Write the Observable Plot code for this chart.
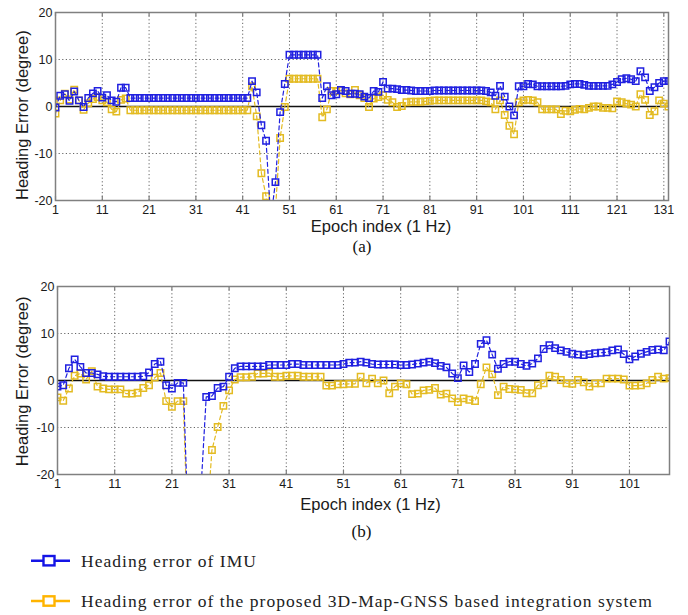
<!DOCTYPE html>
<html>
<head>
<meta charset="utf-8">
<script src="https://cdn.jsdelivr.net/npm/d3@7"></script>
<script src="https://cdn.jsdelivr.net/npm/@observablehq/plot@0.6"></script>
<style>
  html, body { margin: 0; padding: 0; background: #fff; }
  #wrap { position: relative; width: 688px; height: 615px; overflow: hidden; background: #fff; }
  .abs { position: absolute; left: 0; }
  svg { display: block; }
</style>
</head>
<body>
<div id="wrap">
  <div id="pa" class="abs" style="top:0px"></div>
  <div id="pb" class="abs" style="top:270px"></div>
  <div id="leg" class="abs" style="top:546px"></div>
</div>
<script>
// ---------- data ----------
const xTicksA = [1, 11, 21, 31, 41, 51, 61, 71, 81, 91, 101, 111, 121, 131];
const xTicksB = [1, 11, 21, 31, 41, 51, 61, 71, 81, 91, 101];
const yTicks = [-20, -10, 0, 10, 20];

const seriesNames = ["Heading error of IMU", "Heading error of the proposed 3D-Map-GNSS based integration system"];
const xLabel = "Epoch index (1 Hz)";
const yLabel = "Heading Error (degree)";
const panelTags = ["(a)", "(b)"];

// panel (a): epochs 1..132
const imuA = [
  -0.2, 2.3, 2.6, 1.2, 3.2, 1.3, -0.1, 1.8, 2.8, 3.3,
  1.9, 2.4, 1.3, 1.0, 4.0, 4.0, 1.8, 1.8, 1.8, 1.8,
  1.8, 1.8, 1.8, 1.8, 1.8, 1.8, 1.8, 1.8, 1.8, 1.8,
  1.8, 1.8, 1.8, 1.8, 1.8, 1.8, 1.8, 1.8, 1.8, 1.8,
  1.8, 1.8, 5.4, 3.0, -4.0, -7.3, -24, -16.1, -1.2, 4.8,
  11.0, 11.0, 11.0, 11.0, 11.0, 11.0, 11.0, 1.8, 4.3, 2.4,
  2.6, 3.5, 3.3, 2.7, 2.7, 2.6, 2.1, 1.8, 3.3, 3.1,
  5.2, 3.8, 3.8, 3.7, 3.5, 3.5, 3.4, 3.3, 3.3, 3.3,
  3.3, 3.4, 3.4, 3.4, 3.4, 3.4, 3.4, 3.4, 3.4, 3.4,
  3.4, 3.4, 3.3, 3.0, 2.3, 4.4, 2.1, 0.0, -1.9, 4.3,
  4.3, 4.8, 4.7, 4.3, 4.3, 4.3, 4.3, 4.3, 4.3, 4.4,
  4.7, 4.8, 4.8, 4.6, 4.4, 4.4, 4.4, 4.4, 4.4, 4.7,
  5.2, 5.8, 6.0, 5.8, 5.4, 7.5, 6.2, 3.3, 4.1, 5.0,
  5.4, 5.4
];
const propA = [
  -1.5, 1.3, 2.7, 1.5, 3.6, 1.3, -0.7, 0.7, 1.6, 2.0,
  1.3, 0.9, -0.6, -1.1, 1.4, 1.7, -0.8, -0.8, -0.8, -0.8,
  -0.8, -0.8, -0.8, -0.8, -0.8, -0.8, -0.8, -0.8, -0.8, -0.8,
  -0.8, -0.8, -0.8, -0.8, -0.8, -0.8, -0.8, -0.8, -0.8, -0.8,
  -0.8, -0.8, 4.3, -2.1, -14.2, -19.1, -30, -22, -6.7, -0.1,
  5.9, 5.9, 5.9, 5.9, 5.9, 5.9, 5.9, -2.3, -0.6, 3.3,
  3.3, 3.4, 2.8, 2.6, 3.5, 2.4, 1.8, -0.1, 1.7, 2.0,
  2.4, 1.4, 0.9, -0.1, 0.1, 0.9, 1.0, 1.0, 1.0, 1.1,
  1.2, 1.3, 1.3, 1.3, 1.3, 1.3, 1.3, 1.3, 1.3, 1.3,
  1.3, 1.3, 1.1, 0.9, -0.6, 1.3, -1.8, -4.1, -5.9, 0.9,
  1.3, 1.4, 1.3, 0.9, -0.6, -0.6, -0.6, -0.6, -1.6, -0.9,
  -1.0, -0.7, -0.5, -0.6, -0.3, 0.0, 0.0, -0.3, -0.3, -0.4,
  1.1, 0.9, 0.6, 0.4, 0.0, 2.6, 1.4, -1.8, -1.0, 1.3,
  0.6, 0.0
];

// panel (b): epochs 1..108
const imuB = [
  -1.3, -1.0, 2.6, 4.5, 2.9, 1.6, 1.6, 1.3, 0.9, 0.8,
  0.8, 0.8, 0.8, 0.8, 0.8, 0.9, 1.7, 3.5, 4.0, -1.0,
  -1.7, -0.5, -0.5, -37, -45, -25, -3.5, -3.3, -1.6, -1.3,
  0.8, 2.6, 3.0, 3.0, 3.0, 3.0, 3.0, 3.3, 3.3, 3.3,
  3.3, 3.5, 3.5, 3.3, 3.3, 3.3, 3.3, 3.3, 3.3, 3.3,
  3.5, 3.8, 3.8, 4.0, 3.8, 3.5, 3.4, 3.4, 3.4, 3.4,
  3.3, 3.3, 3.4, 3.6, 3.8, 4.0, 3.7, 3.1, 2.8, 1.5,
  0.5, 3.2, 1.8, 3.5, 7.8, 8.6, 5.5, 2.5, 3.5, 4.0,
  4.0, 3.5, 3.1, 3.6, 4.7, 6.7, 7.5, 6.9, 6.4, 6.1,
  5.7, 5.5, 5.4, 5.6, 5.8, 5.9, 6.0, 6.4, 6.6, 5.6,
  4.5, 5.1, 5.7, 6.1, 6.5, 6.6, 6.4, 8.3
];
const propB = [
  -3.6, -4.3, -1.7, 1.0, 1.5, 0.2, 2.0, -1.3, -1.7, -1.9,
  -1.9, -1.9, -2.8, -2.8, -2.6, -1.6, -1.0, 0.6, 1.6, -4.4,
  -5.6, -4.4, -4.4, -42, -55, -50, -32, -14.8, -9.9, -5.4,
  -2.1, 0.2, 0.7, 0.7, 0.8, 1.5, 1.5, 1.6, 0.8, 0.8,
  1.0, 1.0, 1.0, 0.8, 0.8, 0.8, 0.8, -1.1, -1.1, -0.8,
  -0.8, -0.7, -0.7, 0.8, -0.6, 0.4, -0.6, 0.0, -2.7, -1.3,
  -0.6, -0.8, -2.9, -2.8, -2.1, -2.0, -1.6, -3.0, -2.8, -3.8,
  -4.6, -3.8, -4.1, -4.4, -0.8, 2.8, 1.3, -3.1, -1.3, -1.8,
  -1.9, -2.0, -2.7, -2.7, -1.0, -0.6, 1.0, 0.8, 0.1, -0.6,
  -0.7, 0.1, -0.4, -1.3, -0.6, -0.6, 0.4, 0.4, 0.4, 0.2,
  -1.1, -1.1, -1.0, -0.6, 0.1, 0.8, 0.4, 0.5
];

// ---------- styling ----------
const BLUE = "#2020e0";
const YELLOW = "#e3bb22";
const LEG_BLUE = "#1414e6";
const LEG_YELLOW = "#ffb400";
const SANS = '"Liberation Sans", Arial, Helvetica, sans-serif';
const SERIF = '"Liberation Serif", "Times New Roman", serif';

function toRows(values) {
  return values.map((v, i) => ({epoch: i + 1, err: v}));
}

function panel(cfg) {
  const imuRows = toRows(cfg.imu);
  const propRows = toRows(cfg.prop);
  const xMax = cfg.imu.length;
  const plotH = 188;
  const gridStyle = {stroke: "#555", strokeDasharray: "1.2,2.4", strokeWidth: 0.9};
  return Plot.plot({
    width: 688,
    height: cfg.height,
    marginLeft: cfg.marginLeft,
    marginRight: cfg.marginRight,
    marginTop: cfg.marginTop,
    marginBottom: cfg.height - cfg.marginTop - plotH,
    style: {fontFamily: SANS, fontSize: "12.5px", color: "#1a1a1a", background: "none", overflow: "visible"},
    x: {domain: [1, xMax], ticks: cfg.xTicks, tickSize: 0, tickPadding: 5, label: null, tickFormat: d => String(d)},
    y: {domain: [-20, 20], ticks: yTicks, tickSize: 0, tickPadding: 3, label: null, tickFormat: d => String(d)},
    marks: [
      Plot.ruleX(cfg.xTicks, gridStyle),
      Plot.ruleY(yTicks.filter(d => d !== 0), gridStyle),
      Plot.ruleX(cfg.xTicks, {y1: 20, y2: 19.1, stroke: "#7a7a7a", strokeWidth: 1.2}),
      Plot.ruleX(cfg.xTicks, {y1: -20, y2: -19.1, stroke: "#7a7a7a", strokeWidth: 1.2}),
      Plot.ruleY([0], {stroke: "#111", strokeWidth: 1.4}),
      Plot.line(propRows, {x: "epoch", y: "err", stroke: YELLOW, strokeWidth: 1.2, strokeDasharray: "4,3", clip: true}),
      Plot.dot(propRows, {x: "epoch", y: "err", symbol: "square", r: 3.6, stroke: YELLOW, strokeWidth: 1.5, fill: "none", clip: true}),
      Plot.line(imuRows, {x: "epoch", y: "err", stroke: BLUE, strokeWidth: 1.2, strokeDasharray: "4,3", clip: true}),
      Plot.dot(imuRows, {x: "epoch", y: "err", symbol: "square", r: 3.6, stroke: BLUE, strokeWidth: 1.5, fill: "none", clip: true}),
      Plot.frame({stroke: "#808080", strokeWidth: 1.5}),
      Plot.text([xLabel], {text: d => d, frameAnchor: "bottom", textAnchor: "middle", dx: cfg.xLabelDx, dy: cfg.xLabelDy, lineAnchor: "middle", fontSize: 16.5, fontFamily: SANS, fill: "#1a1a1a"}),
      Plot.text([yLabel], {text: d => d, frameAnchor: "left", textAnchor: "middle", rotate: -90, dx: cfg.yLabelDx, dy: cfg.yLabelDy, lineAnchor: "middle", fontSize: 16.5, fontFamily: SANS, fill: "#1a1a1a"}),
      Plot.text([cfg.tag], {text: d => d, frameAnchor: "bottom", textAnchor: "middle", dx: cfg.tagDx, dy: cfg.tagDy, lineAnchor: "middle", fontSize: 17, fontFamily: SERIF, fill: "#111"})
    ]
  });
}

document.getElementById("pa").appendChild(panel({
  imu: imuA, prop: propA, xTicks: xTicksA, tag: panelTags[0],
  height: 265, marginTop: 12, marginLeft: 55, marginRight: 20,
  xLabelDx: 19, xLabelDy: 26.5, yLabelDx: -32.5, yLabelDy: 8.7, tagDx: 0, tagDy: 46.5
}));

document.getElementById("pb").appendChild(panel({
  imu: imuB, prop: propB, xTicks: xTicksB, tag: panelTags[1],
  height: 276, marginTop: 16, marginLeft: 57, marginRight: 19,
  xLabelDx: 7, xLabelDy: 30, yLabelDx: -34.5, yLabelDy: 0.8, tagDx: -2, tagDy: 57
}));

// ---------- legend ----------
(function legend() {
  const ns = "http://www.w3.org/2000/svg";
  const svg = document.createElementNS(ns, "svg");
  svg.setAttribute("width", 688);
  svg.setAttribute("height", 69);
  const rows = [
    {name: seriesNames[0], color: LEG_BLUE, cy: 14.7, base: 20.7},
    {name: seriesNames[1], color: LEG_YELLOW, cy: 55, base: 60.7}
  ];
  rows.forEach(r => {
    const line = document.createElementNS(ns, "line");
    line.setAttribute("x1", 31); line.setAttribute("x2", 70);
    line.setAttribute("y1", r.cy); line.setAttribute("y2", r.cy);
    line.setAttribute("stroke", r.color); line.setAttribute("stroke-width", 2.4);
    svg.appendChild(line);
    const rect = document.createElementNS(ns, "rect");
    rect.setAttribute("x", 43.5); rect.setAttribute("y", r.cy - 4.7);
    rect.setAttribute("width", 11); rect.setAttribute("height", 9.4);
    rect.setAttribute("fill", "#fff"); rect.setAttribute("stroke", r.color); rect.setAttribute("stroke-width", 2.4);
    svg.appendChild(rect);
    const t = document.createElementNS(ns, "text");
    t.setAttribute("x", 81); t.setAttribute("y", r.base);
    t.setAttribute("font-family", SERIF); t.setAttribute("font-size", 17.5);
    t.setAttribute("letter-spacing", 1.05); t.setAttribute("fill", "#222");
    t.textContent = r.name;
    svg.appendChild(t);
  });
  document.getElementById("leg").appendChild(svg);
})();
</script>
</body>
</html>
